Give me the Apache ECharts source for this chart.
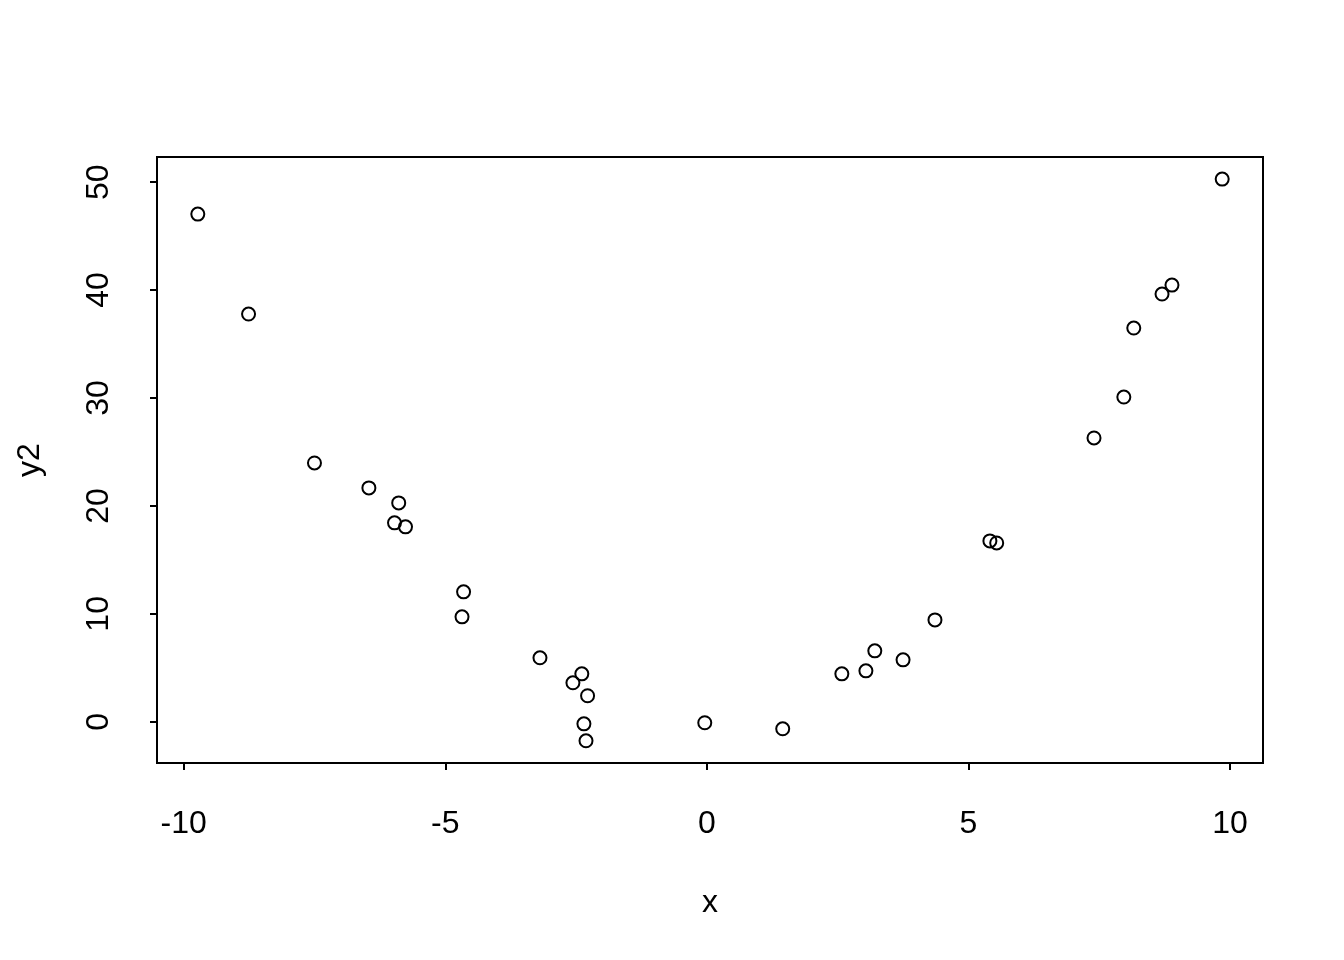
<!DOCTYPE html>
<html>
<head>
<meta charset="utf-8">
<script src="https://cdn.jsdelivr.net/npm/echarts@6/dist/echarts.min.js"></script>
<style>
html, body { margin: 0; padding: 0; background: #fff; }
#chart { width: 1344px; height: 960px; }
</style>
</head>
<body>
<div id="chart"></div>
<script>
const xValues = [-9.73, -8.76, -7.50, -6.46, -5.89, -5.97, -5.76, -4.65, -4.68, -3.19,
  -2.56, -2.39, -2.28, -2.35, -2.31, -0.04, 1.45, 2.58, 3.04, 3.21,
  3.75, 4.36, 5.41, 5.54, 7.40, 7.97, 8.16, 8.70, 8.89, 9.85];
const y2Values = [47.04, 37.78, 23.98, 21.67, 20.28, 18.43, 18.06, 12.04, 9.72, 5.93,
  3.61, 4.44, 2.41, -0.19, -1.76, -0.09, -0.65, 4.44, 4.72, 6.57,
  5.74, 9.44, 16.76, 16.57, 26.30, 30.09, 36.48, 39.63, 40.46, 50.28];
const xTicks = [-10, -5, 0, 5, 10];
const yTicks = [0, 10, 20, 30, 40, 50];
const xTitle = 'x';
const yTitle = 'y2';

const points = xValues.map((x, i) => [x, y2Values[i]]);
const font = 'Liberation Sans, Arial, sans-serif';

const chart = echarts.init(document.getElementById('chart'), null, { renderer: 'canvas' });
chart.setOption({
  animation: false,
  backgroundColor: '#ffffff',
  grid: {
    left: 157, top: 157, right: 81, bottom: 197,
    show: true, borderColor: '#000', borderWidth: 2,
    backgroundColor: 'transparent', containLabel: false, outerBoundsMode: 'none'
  },
  xAxis: {
    type: 'value', min: -10.51, max: 10.63,
    name: xTitle, nameLocation: 'middle', nameGap: 124,
    nameTextStyle: { fontFamily: font, fontSize: 32, color: '#000' },
    axisLine: { show: false, onZero: false },
    splitLine: { show: false },
    axisTick: { show: true, inside: false, length: 7, customValues: xTicks, lineStyle: { color: '#000', width: 2 } },
    axisLabel: { show: true, margin: 45, customValues: xTicks, fontFamily: font, fontSize: 32, color: '#000' }
  },
  yAxis: {
    type: 'value', min: -3.82, max: 52.33,
    name: yTitle, nameLocation: 'middle', nameGap: 111, nameRotate: 90,
    nameTextStyle: { fontFamily: font, fontSize: 32, color: '#000' },
    axisLine: { show: false, onZero: false },
    splitLine: { show: false },
    axisTick: { show: true, inside: false, length: 7, customValues: yTicks, lineStyle: { color: '#000', width: 2 } },
    axisLabel: { show: true, margin: 42, rotate: 90, customValues: yTicks, fontFamily: font, fontSize: 32, color: '#000' }
  },
  series: [{
    type: 'scatter',
    data: points,
    symbol: 'circle',
    symbolSize: 13,
    itemStyle: { color: 'rgba(0,0,0,0)', borderColor: '#000', borderWidth: 2, opacity: 1 },
    emphasis: { disabled: true },
    silent: true
  }]
});
</script>
</body>
</html>
